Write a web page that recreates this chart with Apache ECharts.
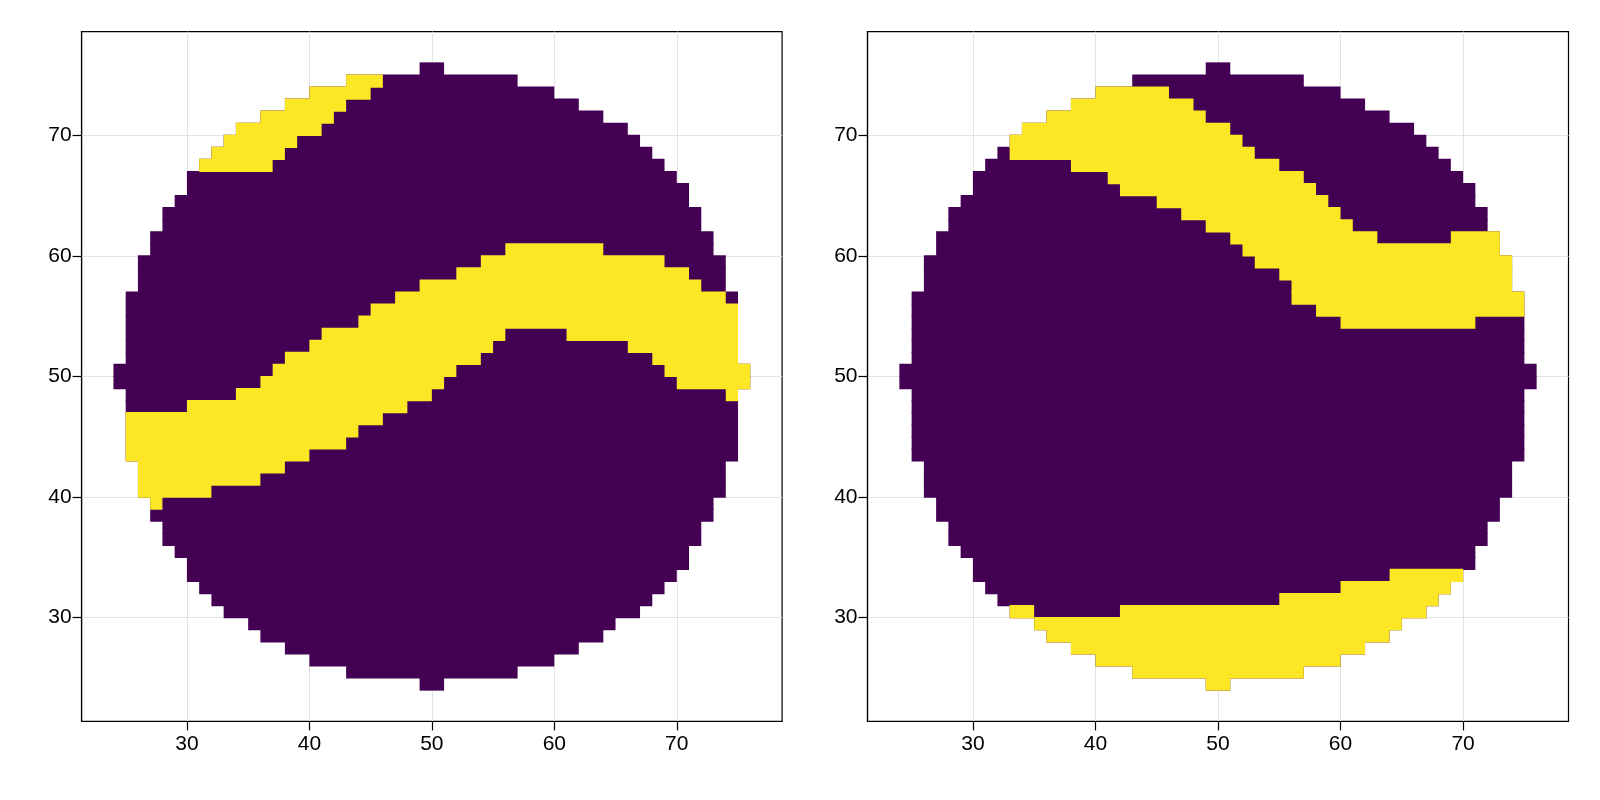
<!DOCTYPE html>
<html><head><meta charset="utf-8">
<script src="https://cdn.jsdelivr.net/npm/echarts@6/dist/echarts.min.js"></script>
<style>html,body{margin:0;padding:0;background:#fff}#c{width:1600px;height:800px}</style>
</head><body><div id="c"></div>
<script>
// Circle mask: for each row y (cell spans [y, y+1]), first and last filled x cell
const rows     = [24,25,26,27,28,29,30,31,32,33,34,35,36,37,38,39,40,41,42,43,44,45,46,47,48,49,50,51,52,53,54,55,56,57,58,59,60,61,62,63,64,65,66,67,68,69,70,71,72,73,74,75];
const rowStart = [49,43,40,38,36,35,33,32,31,30,30,29,28,28,27,27,26,26,26,25,25,25,25,25,25,24,24,25,25,25,25,25,25,26,26,26,27,27,28,28,29,30,30,31,32,33,34,36,38,40,43,49];
const rowEnd   = [50,56,59,61,63,64,66,67,68,69,70,70,71,71,72,72,73,73,73,74,74,74,74,74,74,75,75,74,74,74,74,74,74,73,73,73,72,72,71,71,70,70,69,68,67,66,65,63,61,59,56,50];

// Yellow runs (value 1), left panel
const leftRow   = [74,73,72,71,70,69,68,67,60,59,58,57,56,55,54,53,53,52,52,51,51,50,50,49,49,48,48,47,46,45,44,43,42,41,40,39];
const leftStart = [43,40,38,36,34,33,32,31,56,54,52,49,47,45,44,41,61,40,66,38,68,37,69,36,70,34,74,30,25,25,25,25,26,26,26,27];
const leftEnd   = [45,44,42,41,40,38,37,36,63,68,70,71,73,74,74,55,74,54,74,53,74,51,75,50,75,49,74,47,45,43,42,39,37,35,31,27];

// Yellow runs (value 1), right panel
const rightRow   = [73,72,71,70,69,68,67,66,65,64,63,62,61,61,60,59,58,57,56,55,54,33,32,31,30,30,29,28,27,26,25,24];
const rightStart = [40,38,36,34,33,33,38,41,42,45,47,49,51,69,52,53,55,56,56,58,60,64,60,55,33,42,35,36,38,40,43,49];
const rightEnd   = [45,47,48,50,51,52,54,56,57,58,59,60,62,72,72,73,73,73,74,74,70,69,68,67,34,66,64,63,61,59,56,50];

const tickValues = [30,40,50,60,70];
const PURPLE = '#440154', YELLOW = '#fde725';

const base = rows.map((y,k)=>[rowStart[k], rowEnd[k], y]);
const band = (r,s,e)=>r.map((y,k)=>[s[k], e[k], y]);

function renderer(color){
  return function(params, api){
    const x0=api.value(0), x1=api.value(1), y=api.value(2);
    const p0=api.coord([x0, y+1]), p1=api.coord([x1+1, y]);
    return {type:'rect', shape:{x:p0[0], y:p0[1]-0.6, width:p1[0]-p0[0], height:p1[1]-p0[1]+1.2},
      style:{fill:color, lineWidth:0}};
  };
}
const font = {color:'#000', fontSize:21, fontFamily:'Liberation Sans, Arial, sans-serif'};
function axis(type, gi){
  return {type:'value', gridIndex:gi, min:21.4, max:78.6,
    axisLine:{show:true, onZero:false, lineStyle:{color:'#000', width:1.2}},
    axisTick:{show:true, length:9, customValues:tickValues, lineStyle:{color:'#000', width:1.2}},
    axisLabel:Object.assign({customValues:tickValues, margin: type==='x'?12:10}, font),
    splitLine:{show:true, lineStyle:{color:'#e3e3e3', width:1}}};
}
const grids = [
  {left:81.6, top:31.6, width:700.5, height:689.8, show:true, borderColor:'#000', borderWidth:1.2},
  {left:867.5, top:31.6, width:701, height:689.8, show:true, borderColor:'#000', borderWidth:1.2}
];
const series = [];
[[0, band(leftRow,leftStart,leftEnd)], [1, band(rightRow,rightStart,rightEnd)]].forEach(([gi, yd])=>{
  series.push({type:'custom', xAxisIndex:gi, yAxisIndex:gi, data:base, renderItem:renderer(PURPLE), encode:{x:[0,1], y:2}, silent:true, animation:false});
  series.push({type:'custom', xAxisIndex:gi, yAxisIndex:gi, data:yd, renderItem:renderer(YELLOW), encode:{x:[0,1], y:2}, silent:true, animation:false});
});
const chart = echarts.init(document.getElementById('c'), null, {renderer:'canvas'});
chart.setOption({
  animation:false, backgroundColor:'#fff',
  grid:grids,
  xAxis:[axis('x',0), axis('x',1)],
  yAxis:[axis('y',0), axis('y',1)],
  series:series
});
</script></body></html>
